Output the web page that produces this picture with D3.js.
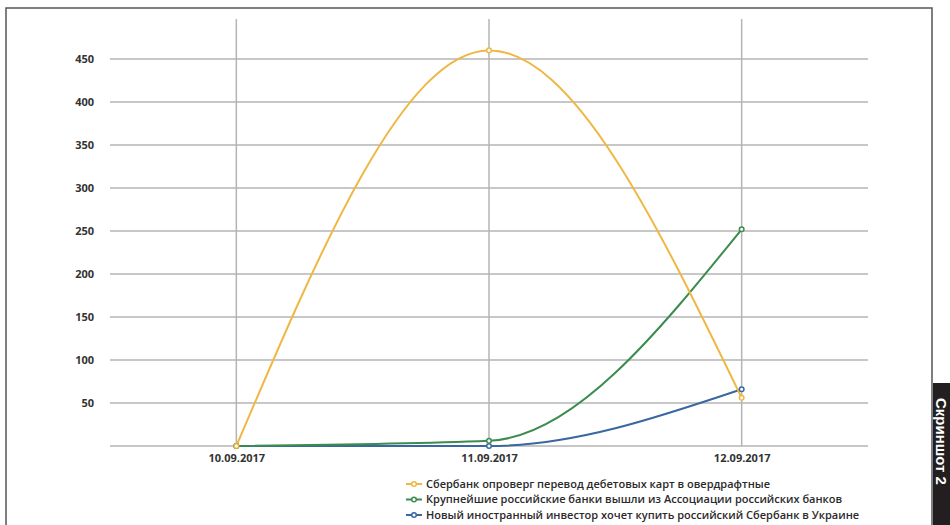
<!DOCTYPE html>
<html><head><meta charset="utf-8">
<script src="https://cdn.jsdelivr.net/npm/d3@7"></script>
<style>
html,body{margin:0;padding:0;background:#fff;}
svg{display:block;}
</style></head>
<body>
<svg id="c" width="950" height="525"></svg>
<script>
const categories = ["10.09.2017", "11.09.2017", "12.09.2017"];
const yTicks = [50, 100, 150, 200, 250, 300, 350, 400, 450];
const seriesNames = [
  "Сбербанк опроверг перевод дебетовых карт в овердрафтные",
  "Крупнейшие российские банки вышли из Ассоциации российских банков",
  "Новый иностранный инвестор хочет купить российский Сбербанк в Украине"
];
const sberValues = [0, 460, 56];
const assocValues = [0, 6, 252];
const investorValues = [0, 0, 66];
const seriesColors = ["#efb845", "#3b8c4e", "#38689f"];
const sideLabel = "Скриншот 2";

const series = [sberValues, assocValues, investorValues].map((v, i) => ({name: seriesNames[i], values: v, color: seriesColors[i]}));

const svg = d3.select("#c");
const font = "'Open Sans', sans-serif";

// frame
svg.append("rect").attr("x", 6).attr("y", 8).attr("width", 926).attr("height", 530)
  .attr("fill", "#fff").attr("stroke", "#555").attr("stroke-width", 1.5);

const x = d3.scalePoint().domain(categories).range([110, 868]).padding(0.5);
const y = d3.scaleLinear().domain([0, 450]).range([446, 59]);

// horizontal grid
const g = svg.append("g");
g.selectAll("line.h").data([0].concat(yTicks)).join("line")
  .attr("x1", 110).attr("x2", 868)
  .attr("y1", d => y(d)).attr("y2", d => y(d))
  .attr("stroke", "#b4b4b4").attr("stroke-width", 1.5);
// vertical grid
g.selectAll("line.v").data(categories).join("line")
  .attr("x1", d => x(d)).attr("x2", d => x(d))
  .attr("y1", 19).attr("y2", y(0))
  .attr("stroke", "#b4b4b4").attr("stroke-width", 1.5);

// y axis labels
const yAxis = d3.axisLeft(y).tickValues(yTicks).tickSize(0).tickPadding(16);
const ya = svg.append("g").attr("transform", "translate(110,0)").call(yAxis);
ya.select(".domain").remove();
ya.selectAll("text").attr("font-family", font).attr("font-size", 11).attr("font-weight", 700).attr("fill", "#333");

// x axis labels
const xAxis = d3.axisBottom(x).tickSize(0).tickPadding(8);
const xa = svg.append("g").attr("transform", `translate(0,${y(0)})`).call(xAxis);
xa.select(".domain").remove();
xa.selectAll("text").attr("font-family", font).attr("font-size", 11).attr("font-weight", 700).attr("fill", "#333");

// lines
const line = d3.line().x((d, i) => x(categories[i])).y(d => y(d)).curve(d3.curveMonotoneX);
const sg = svg.append("g");
series.slice().reverse().forEach(s => {
  sg.append("path").attr("d", line(s.values)).attr("fill", "none")
    .attr("stroke", s.color).attr("stroke-width", 2);
});
series.slice().reverse().forEach(s => {
  sg.selectAll(null).data(s.values).join("circle")
    .attr("cx", (d, i) => x(categories[i])).attr("cy", d => y(d)).attr("r", 2.3)
    .attr("fill", "#fff").attr("stroke", s.color).attr("stroke-width", 1.5);
});

// legend
const lg = svg.append("g").attr("transform", "translate(406,484)");
series.forEach((s, i) => {
  const row = lg.append("g").attr("transform", `translate(0,${i * 15.5})`);
  row.append("line").attr("x1", 0).attr("x2", 16).attr("y1", 0).attr("y2", 0)
    .attr("stroke", s.color).attr("stroke-width", 2);
  row.append("circle").attr("cx", 8).attr("cy", 0).attr("r", 2.3)
    .attr("fill", "#fff").attr("stroke", s.color).attr("stroke-width", 1.5);
  row.append("text").attr("x", 20).attr("y", 0).attr("dy", "0.35em")
    .attr("font-family", font).attr("font-size", 11).attr("font-weight", 600)
    .attr("fill", "#2a2a2a").text(s.name);
});

// side tab
svg.append("rect").attr("x", 933).attr("y", 383).attr("width", 17).attr("height", 142).attr("fill", "#231f20");
svg.append("text").attr("transform", "translate(936,398) rotate(90)")
  .attr("font-family", "'Liberation Sans', Arial, sans-serif").attr("font-size", 15).attr("font-weight", 700)
  .attr("fill", "#fff").text(sideLabel);
</script>
</body></html>
